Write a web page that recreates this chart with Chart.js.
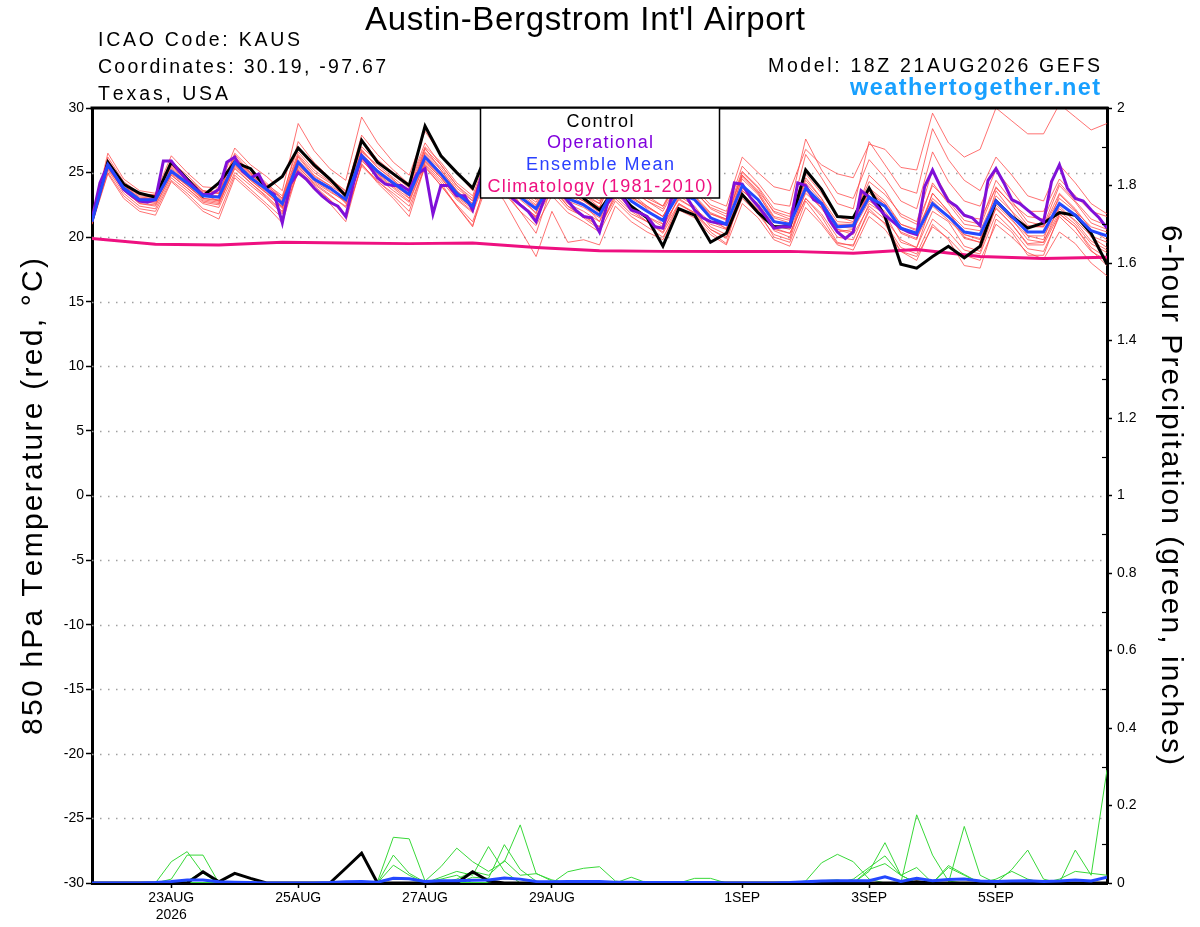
<!DOCTYPE html>
<html>
<head>
<meta charset="utf-8">
<script src="https://cdn.jsdelivr.net/npm/chart.js@4.4.1/dist/chart.umd.min.js"></script>
<style>
  html, body { margin: 0; padding: 0; background: #fff; }
  #wrap { width: 1200px; height: 927px; position: relative; }
</style>
</head>
<body>
<div id="wrap"><canvas id="gefsChart" width="1200" height="927"></canvas></div>
<script>
// x axis: forecast hours from 21AUG2026 18Z
const tickHours = [30, 78, 126, 174, 246, 294, 342];
const tickLabels = [['23AUG', '2026'], '25AUG', '27AUG', '29AUG', '1SEP', '3SEP', '5SEP'];
const climHours = [0, 24, 48, 72, 96, 120, 144, 168, 192, 216, 240, 264, 288, 312, 336, 360, 384];

// 850 hPa temperature (C), 6-hourly
const controlTemp = [21.3,
  25.8, 24.1, 23.4, 23.1,  25.8, 24.5, 23.2, 24.2,  25.8, 25.3, 23.8, 24.7,  26.9, 25.6, 24.5, 23.2,
  27.5, 25.8, 24.9, 24.0,  28.6, 26.3, 25.0, 23.8,  26.8, 25.4, 24.3, 23.6,  25.4, 24.6, 23.0, 22.1,
  23.7, 22.4, 21.5, 19.3,  22.2, 21.7, 19.6, 20.3,  23.3, 21.9, 20.8, 20.8,  25.2, 23.7, 21.6, 21.5,
  23.8, 21.6, 17.9, 17.6,  18.5, 19.3, 18.4, 19.3,  22.8, 21.6, 20.7, 21.1,  21.9, 21.7, 20.3, 17.9];
const meanTemp = [21.2,
  25.6, 23.8, 22.9, 22.9,  25.1, 24.2, 23.2, 23.1,  25.8, 24.6, 23.7, 22.6,  25.8, 24.5, 23.8, 22.9,
  26.3, 25.1, 24.2, 23.3,  26.2, 24.9, 23.4, 22.4,  25.6, 24.5, 23.1, 22.2,  24.3, 23.0, 22.5, 21.7,
  24.0, 22.8, 22.0, 21.3,  23.4, 22.9, 21.5, 21.0,  24.0, 22.9, 21.2, 21.0,  23.8, 22.6, 20.8, 20.9,
  23.1, 22.4, 20.7, 20.3,  22.6, 21.6, 20.4, 20.2,  22.8, 21.6, 20.4, 20.4,  22.6, 21.7, 20.5, 20.1];
// operational run, 3-hourly
const operTemp = [
  21.4, 24.2, 25.6, 24.7, 23.7, 23.2, 22.8, 22.7,
  22.9, 25.9, 25.9, 25.1, 24.4, 23.8, 23.3, 23.3,
  23.7, 25.8, 26.2, 25.1, 24.6, 24.9, 23.7, 23.3,
  21.1, 24.1, 25.0, 24.5, 23.8, 23.2, 22.7, 22.4,
  21.6, 24.2, 26.3, 25.5, 24.6, 24.1, 24.0, 24.0,
  23.6, 24.9, 25.3, 21.8, 24.0, 24.0, 23.2, 23.2,
  22.1, 24.5, 25.8, 25.6, 24.8, 23.0, 22.5, 22.0,
  21.2, 22.9, 24.0, 23.6, 22.8, 22.1, 21.6, 21.5,
  20.4, 22.6, 23.4, 23.0, 22.1, 21.9, 21.6, 20.8,
  20.7, 22.9, 23.7, 23.1, 22.1, 21.5, 21.2, 21.1,
  21.0, 24.2, 24.1, 23.1, 22.4, 21.6, 20.7, 20.8,
  20.8, 24.2, 24.0, 22.9, 22.6, 21.3, 20.4, 19.9,
  20.4, 23.6, 23.1, 22.4, 21.7, 21.2, 20.7, 20.4,
  20.2, 23.9, 25.2, 23.9, 22.8, 22.4, 21.7, 21.5,
  20.9, 24.4, 25.3, 24.2, 22.9, 22.6, 22.1, 21.6,
  21.2, 24.3, 25.6, 23.8, 23.0, 22.8, 22.1, 21.5,
  20.7];
const climTemp = [19.9, 19.45, 19.4, 19.6, 19.55, 19.5, 19.55, 19.2, 18.95, 18.9, 18.9, 18.9, 18.75, 19.05, 18.5, 18.35, 18.45];

// ensemble members (red)
const memberTemp = [
  [21.3, 26.2,24.3,23.4,23.2, 25.8,24.8,23.6,23.4, 26.5,25.3,24.2,23.0, 27.4,25.8,24.6,23.5,
   27.9,26.4,25.2,24.1, 27.3,25.6,24.0,22.8, 26.5,25.3,23.9,22.9, 25.5,24.2,23.4,22.6,
   25.6,24.0,23.2,22.4, 24.8,24.0,22.9,22.4, 26.2,25.0,23.9,23.6, 26.8,25.6,24.9,24.6,
   27.2,26.8,25.4,25.2, 29.6,27.3,26.2,26.8, 30.0,29.0,28.0,28.0, 30.3,29.3,28.3,28.8],
  [21.0, 25.2,23.4,22.4,22.2, 24.6,23.6,22.6,22.3, 25.0,24.0,23.0,21.8, 25.0,23.8,22.9,21.7,
   25.5,24.3,23.4,22.4, 25.4,24.0,22.5,21.2, 24.6,23.4,22.0,20.9, 23.2,21.9,21.2,20.4,
   22.8,21.6,20.8,20.0, 22.1,21.5,20.2,19.4, 22.6,21.5,19.8,19.3, 22.3,21.0,19.4,19.0,
   21.6,20.6,18.9,18.5, 20.8,19.9,18.6,18.2, 21.0,20.0,18.8,18.3, 20.4,19.5,18.0,17.0],
  [21.4, 25.9,24.0,23.0,23.0, 25.4,24.4,23.3,22.8, 26.2,24.9,23.6,22.3, 26.3,24.8,24.0,22.6,
   26.8,25.4,24.5,23.0, 26.9,25.2,23.6,22.2, 26.0,24.6,23.2,21.8, 24.9,23.3,22.6,21.2,
   24.8,23.2,22.2,21.0, 24.0,23.2,21.6,20.6, 24.7,23.4,21.3,20.8, 24.6,23.0,20.6,20.4,
   23.7,22.6,20.3,19.8, 23.4,22.0,20.0,19.6, 23.6,22.0,20.1,19.8, 23.3,22.1,20.0,19.2],
  [21.3, 26.5,24.5,23.6,23.4, 26.3,25.0,23.9,23.8, 26.9,25.6,24.7,23.6, 28.8,26.7,25.3,24.4,
   29.3,27.3,25.8,24.8, 28.2,26.4,25.0,23.6, 27.0,25.6,24.1,23.0, 25.8,24.0,23.3,22.3,
   25.0,23.4,22.4,21.6, 23.8,23.0,21.8,21.4, 25.0,23.8,21.9,21.4, 25.3,23.8,21.6,21.2,
   24.8,23.6,21.6,21.0, 24.0,22.8,21.3,21.0, 24.4,22.8,21.2,20.9, 24.0,22.7,21.1,20.6],
  [21.0, 24.9,23.0,22.0,21.7, 24.3,23.2,22.0,21.4, 24.6,23.5,22.4,21.1, 25.2,23.7,22.6,21.2,
   25.7,24.2,23.0,21.6, 25.5,24.0,22.4,20.8, 25.2,23.6,22.0,20.3, 24.0,22.4,21.5,20.6,
   23.4,22.2,21.2,20.4, 23.2,22.4,20.8,20.2, 23.4,22.2,20.6,20.3, 23.0,21.8,20.0,19.8,
   22.6,21.8,19.6,19.2, 22.0,21.2,19.3,18.9, 22.3,21.0,19.5,19.6, 22.0,21.0,19.5,18.8],
  [21.2, 25.6,23.8,22.8,22.6, 25.2,24.0,23.0,22.8, 25.5,24.4,23.4,22.4, 26.0,24.6,23.8,23.0,
   26.5,25.2,24.0,23.2, 26.4,25.0,23.5,22.6, 25.9,24.8,23.5,22.5, 24.8,23.4,22.8,21.9,
   24.3,23.0,22.3,21.6, 23.6,23.0,21.8,21.3, 24.5,23.3,21.5,21.1, 24.2,22.8,21.0,21.0,
   23.4,22.6,21.0,20.6, 23.0,21.9,20.7,20.5, 23.2,22.0,20.8,20.8, 23.0,22.0,20.8,20.4],
  [21.3, 25.8,24.1,23.1,23.0, 25.5,24.5,23.4,23.4, 25.9,24.8,24.0,23.0, 26.6,25.2,24.3,23.4,
   27.0,25.8,24.8,23.8, 26.8,25.6,24.0,23.0, 26.2,25.0,23.8,23.0, 25.6,24.0,23.2,22.6,
   25.0,23.6,22.8,22.2, 24.6,23.8,22.5,22.0, 25.5,24.2,22.6,22.4, 27.6,25.2,23.4,23.0,
   26.0,24.6,22.8,22.2, 26.6,24.3,22.8,22.4, 25.2,23.6,22.0,22.0, 24.5,23.2,22.0,21.6],
  [21.1, 25.3,23.6,22.6,22.4, 24.8,23.8,22.8,22.6, 25.3,24.2,23.2,22.0, 25.4,24.2,23.3,22.3,
   25.9,24.8,23.8,22.8, 25.8,24.6,23.0,22.0, 25.3,24.2,22.6,21.6, 23.8,22.4,21.7,20.8,
   23.0,21.8,21.2,20.3, 22.5,21.9,20.6,19.9, 23.3,22.1,20.0,19.6, 22.8,21.2,19.5,19.4,
   22.0,21.1,19.2,18.7, 21.4,20.4,19.0,18.7, 21.8,20.6,19.1,18.9, 21.6,20.4,18.9,18.2],
  [21.4, 26.0,24.2,23.2,23.1, 25.6,24.6,23.6,23.4, 26.4,25.0,24.0,22.9, 26.4,25.0,24.2,23.1,
   26.6,25.6,24.6,23.6, 26.6,25.4,23.8,22.8, 26.3,25.0,23.6,22.7, 25.0,23.7,23.0,22.3,
   25.3,23.8,22.8,22.0, 24.3,23.5,22.3,21.8, 25.1,23.9,22.2,21.8, 24.9,23.4,21.6,21.5,
   24.3,23.3,21.8,21.2, 25.2,23.0,21.6,21.4, 23.8,22.6,21.6,21.4, 24.2,22.8,21.4,20.9],
  [21.2, 25.4,23.7,22.7,22.8, 24.9,24.0,23.0,22.9, 25.7,24.5,23.5,22.2, 25.6,24.3,23.5,22.8,
   26.2,24.9,24.1,23.4, 26.0,24.7,23.2,22.3, 25.4,24.3,22.9,21.9, 24.1,22.8,22.3,21.5,
   23.7,22.4,21.6,21.0, 22.9,22.2,21.2,20.7, 23.6,22.6,20.9,20.6, 23.4,22.3,20.4,20.6,
   22.8,22.0,20.4,19.9, 22.4,21.3,20.2,19.9, 22.5,21.3,20.1,20.1, 22.2,21.3,20.1,19.6],
  [21.1, 25.0,23.2,22.2,22.0, 24.4,23.4,22.2,21.8, 24.8,23.7,22.6,21.5, 25.3,24.0,22.9,21.6,
   25.6,24.4,23.2,22.0, 25.6,24.2,22.4,20.9, 24.4,22.8,20.6,18.5, 22.0,19.6,19.8,19.4,
   22.4,21.2,20.4,19.8, 22.6,21.8,20.4,19.5, 23.8,22.4,20.5,20.0, 24.0,22.6,20.8,20.7,
   23.8,22.8,21.0,20.5, 24.2,22.6,21.0,20.8, 23.9,22.5,20.9,20.8, 23.4,22.2,20.6,19.8],
  [21.3, 25.7,24.0,23.0,22.9, 25.3,24.3,23.3,23.2, 26.0,24.9,23.8,22.8, 26.2,24.7,24.0,23.2,
   26.7,25.4,24.4,23.5, 26.5,25.2,23.6,22.6, 25.8,24.7,23.3,22.4, 24.7,23.4,22.8,22.0,
   24.4,23.1,22.4,21.6, 23.9,23.2,21.9,21.4, 24.8,23.6,22.0,21.6, 26.4,24.6,22.6,22.2,
   27.4,25.6,23.8,23.4, 28.4,26.0,24.4,23.6, 26.2,24.8,23.2,22.8, 25.6,24.2,22.6,21.8],
  [21.2, 25.5,23.7,22.8,22.7, 25.0,24.0,22.9,22.7, 25.6,24.4,23.4,22.3, 25.7,24.4,23.6,22.7,
   26.1,24.9,23.9,23.0, 25.9,24.6,23.1,22.2, 25.2,24.0,22.6,21.6, 24.0,22.6,22.0,21.2,
   23.6,22.4,21.6,20.8, 23.0,22.2,21.0,20.6, 23.6,22.5,20.7,20.3, 23.0,21.6,19.6,19.3,
   22.2,21.0,18.9,18.2, 21.0,19.8,17.8,17.6, 21.4,20.4,18.6,18.6, 21.8,20.8,19.0,17.8],
  [21.3, 25.9,24.2,23.3,23.3, 25.6,24.5,23.5,23.6, 26.2,25.0,24.1,23.2, 27.0,25.4,24.5,23.6,
   27.6,26.0,25.0,24.0, 27.0,25.8,24.2,23.2, 26.6,25.2,24.0,23.2, 25.8,24.4,23.6,22.8,
   25.4,24.0,23.0,22.4, 24.4,23.6,22.2,21.6, 24.8,23.5,21.6,21.3, 24.4,23.0,21.2,21.1,
   23.6,22.4,20.6,20.2, 23.4,22.0,20.2,19.8, 22.8,21.4,19.8,19.6, 22.4,21.2,19.7,19.0],
  [21.2, 25.4,23.6,22.6,22.5, 24.8,23.8,22.7,22.5, 25.4,24.2,23.1,21.9, 25.5,24.1,23.2,22.4,
   26.0,24.6,23.6,22.7, 25.7,24.4,22.9,21.9, 25.0,23.9,22.5,21.5, 23.6,22.2,21.6,20.8,
   23.2,22.0,21.2,20.6, 22.6,21.9,20.6,20.0, 23.0,21.8,20.2,19.8, 23.6,22.2,20.6,20.2,
   22.4,21.4,19.8,19.2, 22.8,21.6,19.9,19.6, 22.2,21.0,19.4,19.4, 21.8,20.8,19.2,18.4]
];

// 6-hour precipitation (inches)
const controlPrecip = [0,0,0,0,0, 0,0,0.029,0.003,0.025, 0.012,0,0,0,0, 0,0.038,0.077,0,0, 0,0,0,0,0.029,
  0.005,0,0,0,0, 0,0,0,0,0, 0,0,0,0,0, 0,0,0,0,0, 0,0,0,0,0, 0,0,0.003,0,0, 0,0,0,0,0, 0,0,0,0,0];
const meanPrecip = [0,0,0,0,0.001, 0.004,0.008,0.008,0.003,0.002, 0.001,0,0,0,0, 0.001,0.003,0.004,0.002,0.012,
  0.011,0.004,0.006,0.006,0.007, 0.008,0.013,0.010,0.004,0.003, 0.004,0.004,0.004,0.002,0.002,
  0.001,0.001,0.001,0.001,0.001, 0,0,0,0,0.001, 0.003,0.005,0.006,0.006,0.006,
  0.016,0.004,0.012,0.006,0.009, 0.010,0.005,0.004,0.005,0.006, 0.004,0.005,0.008,0.005,0.015];
const memberPrecip = [
  [0,0,0,0,0, 0.055,0.081,0.025,0,0, 0,0,0,0,0, 0,0,0,0.003,0.118, 0.114,0.005,0,0,0,
   0,0,0,0,0, 0,0,0,0,0, 0,0,0,0,0, 0,0,0,0,0, 0,0,0,0,0, 0,0,0,0,0, 0,0,0,0,0, 0,0,0,0,0],
  [0,0,0,0,0, 0.010,0.072,0.072,0,0, 0,0,0,0,0, 0,0,0,0,0.072, 0.025,0.002,0.010,0.020,0,
   0,0,0,0,0, 0,0,0,0,0, 0,0,0,0,0, 0,0,0,0,0, 0,0,0,0,0, 0,0,0,0,0, 0,0,0,0,0, 0,0,0,0,0],
  [0,0,0,0,0, 0,0.005,0.030,0.002,0, 0,0,0,0,0, 0,0,0,0,0.046, 0.020,0,0.015,0.030,0.020,
   0.094,0.030,0,0,0, 0,0,0,0,0, 0,0,0,0,0, 0,0,0,0,0, 0,0,0,0,0, 0,0,0,0,0, 0,0,0,0,0, 0,0,0,0,0],
  [0,0,0,0,0, 0,0,0,0,0, 0,0,0,0,0, 0,0,0,0,0, 0,0.005,0.042,0.090,0.055,
   0.030,0.055,0.150,0.025,0.005, 0,0,0,0,0, 0,0,0,0,0, 0,0,0,0,0, 0,0,0,0,0, 0,0,0,0,0, 0,0,0,0,0, 0,0,0,0,0],
  [0,0,0,0,0, 0,0,0,0,0, 0,0,0,0,0, 0,0,0,0,0, 0,0,0,0,0.015,
   0.012,0.099,0.035,0.005,0, 0.029,0.038,0.042,0.005,0, 0,0,0,0,0, 0,0,0,0,0, 0,0,0,0,0, 0,0,0,0,0, 0,0,0,0,0, 0,0,0,0,0],
  [0,0,0,0,0, 0,0,0,0,0, 0,0,0,0,0, 0,0,0,0,0, 0,0,0,0.010,0.030,
   0.020,0.058,0.020,0.024,0.008, 0,0,0,0,0.015, 0,0,0,0,0, 0,0,0,0,0, 0,0,0,0,0, 0,0,0,0,0, 0,0,0,0,0, 0,0,0,0,0],
  [0,0,0,0,0, 0,0,0,0,0, 0,0,0,0,0, 0,0,0,0,0, 0,0,0,0,0,
   0,0,0,0,0, 0,0,0,0,0, 0,0,0,0.012,0.012, 0,0,0,0,0, 0.005,0.052,0.074,0.055,0.010,
   0,0,0.176,0.072,0.005, 0,0,0,0,0, 0,0,0,0,0],
  [0,0,0,0,0, 0,0,0,0,0, 0,0,0,0,0, 0,0,0,0,0, 0,0,0,0,0,
   0,0,0,0,0, 0,0,0,0,0, 0,0,0,0,0, 0,0,0,0,0, 0,0,0,0,0.030,
   0.104,0.020,0,0,0, 0.146,0.020,0,0.035,0.085, 0.010,0,0,0,0],
  [0,0,0,0,0, 0,0,0,0,0, 0,0,0,0,0, 0,0,0,0,0, 0,0,0,0,0,
   0,0,0,0,0, 0,0,0,0,0, 0,0,0,0,0, 0,0,0,0,0, 0,0,0,0.010,0.040,
   0.070,0.020,0.040,0,0.040, 0.020,0,0,0,0, 0,0,0.085,0.020,0.292],
  [0,0,0,0,0, 0,0,0,0,0, 0,0,0,0,0, 0,0,0,0,0, 0,0,0,0,0,
   0,0,0,0,0, 0,0,0,0,0, 0,0,0,0,0, 0,0,0,0,0, 0,0.006,0.008,0,0.035,
   0.050,0.020,0,0,0.045, 0.022,0,0.010,0.030,0.010, 0,0.010,0.030,0.025,0.020]
];

const hours6 = controlTemp.map((_, i) => i * 6);
const hours3 = operTemp.map((_, j) => j * 3);

const series = (label, hrs, vals, color, width, axis, order) => ({
    label: label,
    data: vals.map((v, i) => ({ x: hrs[i], y: v })),
    borderColor: color,
    borderWidth: width,
    yAxisID: axis,
    order: order,
    pointRadius: 0,
    fill: false,
    tension: 0
});

const datasets = [];
memberTemp.forEach((m, k) => datasets.push(series('member ' + (k + 1), hours6, m, 'rgba(255,70,70,0.85)', 0.9, 'y', 20)));
memberPrecip.forEach((m, k) => datasets.push(series('precip member ' + (k + 1), hours6, m, '#38d838', 1, 'y1', 20)));
datasets.push(series('Climatology (1981-2010)', climHours, climTemp, '#ee1080', 3, 'y', 5));
datasets.push(series('Control', hours6, controlTemp, '#000000', 3, 'y', 4));
datasets.push(series('Control precip', hours6, controlPrecip, '#000000', 3, 'y1', 4));
datasets.push(series('Operational', hours3, operTemp, '#8010d8', 3, 'y', 3));
datasets.push(series('Ensemble Mean', hours6, meanTemp, '#2448ff', 3, 'y', 2));
datasets.push(series('Ensemble Mean precip', hours6, meanPrecip, '#2448ff', 3, 'y1', 2));

const FONT = '"Liberation Sans", Arial, Helvetica, sans-serif';

// the original lettering is widely tracked: draw char by char so a string fills a given width
const spacedText = (ctx, text, x, y, align, width) => {
    const chars = Array.from(text);
    const widths = chars.map(c => ctx.measureText(c).width);
    const natural = widths.reduce((a, b) => a + b, 0);
    const gap = chars.length > 1 ? (width - natural) / (chars.length - 1) : 0;
    let cx = align === 'center' ? x - width / 2 : (align === 'right' ? x - width : x);
    ctx.textAlign = 'left';
    chars.forEach((c, i) => {
        ctx.fillText(c, cx, y);
        cx += widths[i] + gap;
    });
};

// dotted horizontal grid at every 5 C
const dottedGrid = {
    id: 'dottedGrid',
    beforeDatasetsDraw(chart) {
        const { ctx, chartArea, scales } = chart;
        ctx.save();
        ctx.strokeStyle = '#a0a0a0';
        ctx.lineWidth = 1.5;
        ctx.setLineDash([1.5, 6.5]);
        for (let v = -25; v <= 25; v += 5) {
            const y = Math.round(scales.y.getPixelForValue(v)) + 0.5;
            ctx.beginPath();
            ctx.moveTo(chartArea.left, y);
            ctx.lineTo(chartArea.right, y);
            ctx.stroke();
        }
        ctx.restore();
    }
};

// frame top, legend box, titles
const annotations = {
    id: 'annotations',
    afterDraw(chart) {
        const { ctx, chartArea, scales } = chart;
        ctx.save();
        ctx.strokeStyle = '#000';
        ctx.lineWidth = 3;
        ctx.beginPath();
        ctx.moveTo(chartArea.left - 1.5, chartArea.top);
        ctx.lineTo(chartArea.right + 1.5, chartArea.top);
        ctx.stroke();

        // small inward minor ticks on the precipitation axis
        ctx.lineWidth = 1.2;
        for (let v = 0.1; v < 2; v += 0.2) {
            const y = Math.round(scales.y1.getPixelForValue(v)) + 0.5;
            ctx.beginPath();
            ctx.moveTo(chartArea.right - 5, y);
            ctx.lineTo(chartArea.right, y);
            ctx.stroke();
        }

        // legend box
        ctx.fillStyle = '#fff';
        ctx.fillRect(480, chartArea.top, 240, 90);
        ctx.lineWidth = 1.5;
        ctx.strokeRect(480.5, chartArea.top, 239, 90);
        ctx.textBaseline = 'alphabetic';
        ctx.font = '18px ' + FONT;
        const legendRows = [['Control', '#000', 67], ['Operational', '#8000dd', 106],
            ['Ensemble Mean', '#2a40ff', 148], ['Climatology (1981-2010)', '#ee1080', 225]];
        legendRows.forEach((r, k) => {
            ctx.fillStyle = r[1];
            spacedText(ctx, r[0], 600, 126.7 + k * 21.7, 'center', r[2]);
        });

        // headings
        ctx.fillStyle = '#000';
        ctx.font = '33px ' + FONT;
        spacedText(ctx, "Austin-Bergstrom Int'l Airport", 585, 29.5, 'center', 440);
        ctx.font = '19.5px ' + FONT;
        spacedText(ctx, 'ICAO Code: KAUS', 98, 46, 'left', 202);
        spacedText(ctx, 'Coordinates: 30.19, -97.67', 98, 73, 'left', 288);
        spacedText(ctx, 'Texas, USA', 98, 100, 'left', 130);
        spacedText(ctx, 'Model: 18Z 21AUG2026 GEFS', 1100, 72, 'right', 332);
        ctx.fillStyle = '#18a0ff';
        ctx.font = 'bold 23.5px ' + FONT;
        spacedText(ctx, 'weathertogether.net', 1100, 95, 'right', 250);

        // axis titles
        ctx.fillStyle = '#000';
        ctx.font = '30px ' + FONT;
        ctx.save();
        ctx.translate(42, 496.5);
        ctx.rotate(-Math.PI / 2);
        spacedText(ctx, '850 hPa Temperature (red, \u00B0C)', 0, 0, 'center', 477);
        ctx.restore();
        ctx.save();
        ctx.translate(1162, 495);
        ctx.rotate(Math.PI / 2);
        spacedText(ctx, '6-hour Precipitation (green, inches)', 0, 0, 'center', 540);
        ctx.restore();
        ctx.restore();
    }
};

const initializeChart = () => {
    const ctx = document.getElementById('gefsChart').getContext('2d');
    new Chart(ctx, {
        type: 'line',
        data: { datasets: datasets },
        options: {
            responsive: false,
            animation: false,
            devicePixelRatio: 1,
            layout: { padding: { top: 108, left: 0, right: 0, bottom: 0 } },
            plugins: {
                legend: { display: false },
                tooltip: { enabled: false }
            },
            scales: {
                x: {
                    type: 'linear',
                    min: 0,
                    max: 384,
                    afterBuildTicks: (scale) => { scale.ticks = tickHours.map(v => ({ value: v })); },
                    afterFit: (scale) => { scale.height = 44; },
                    ticks: {
                        autoSkip: false,
                        maxRotation: 0,
                        padding: 2,
                        color: '#000',
                        font: { family: FONT, size: 14 },
                        callback: (v, i) => tickLabels[i]
                    },
                    grid: { drawOnChartArea: false, tickLength: 5, color: '#000', tickWidth: 1.5 },
                    border: { display: true, color: '#000', width: 3 }
                },
                y: {
                    position: 'left',
                    min: -30,
                    max: 30,
                    afterFit: (scale) => { scale.width = 92; },
                    ticks: { stepSize: 5, padding: 2, color: '#000', font: { family: FONT, size: 14 } },
                    grid: { drawOnChartArea: false, tickLength: 6, color: '#000', tickWidth: 1.5 },
                    border: { display: true, color: '#000', width: 3 }
                },
                y1: {
                    position: 'right',
                    min: 0,
                    max: 2,
                    afterFit: (scale) => { scale.width = 93; },
                    ticks: {
                        stepSize: 0.2,
                        padding: 5,
                        color: '#000',
                        font: { family: FONT, size: 14 },
                        callback: (v) => String(Number(v.toFixed(1)))
                    },
                    grid: { drawOnChartArea: false, tickLength: 5, color: '#000', tickWidth: 1.5 },
                    border: { display: true, color: '#000', width: 3 }
                }
            }
        },
        plugins: [dottedGrid, annotations]
    });
};

document.addEventListener('DOMContentLoaded', initializeChart);
</script>
</body>
</html>
